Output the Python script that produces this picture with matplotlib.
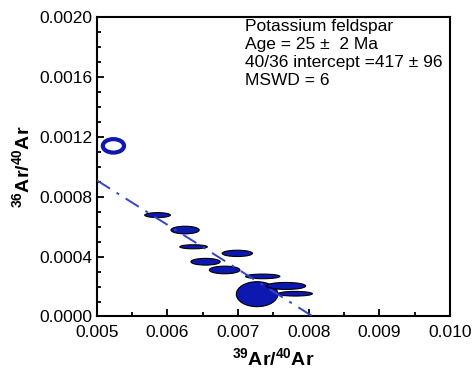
import numpy as np
import matplotlib
matplotlib.use('Agg')
import matplotlib.pyplot as plt
from matplotlib.patches import Ellipse
from matplotlib.ticker import MultipleLocator, FormatStrFormatter

plt.rcParams['font.family'] = ['Liberation Sans', 'DejaVu Sans']
plt.rcParams['mathtext.fontset'] = 'custom'
plt.rcParams['mathtext.rm'] = 'Liberation Sans:bold'
plt.rcParams['mathtext.bf'] = 'Liberation Sans:bold'

# Ellipses d'erreur (centre x, centre y, largeur, hauteur)
x_c = [0.00586, 0.00625, 0.00637, 0.00654, 0.00681, 0.00699, 0.00735, 0.00727, 0.00768, 0.00781]
y_c = [0.000678, 0.000578, 0.000466, 0.000366, 0.000311, 0.000422, 0.000268, 0.000149, 0.000204, 0.000152]
x_w = [0.000363, 0.000400, 0.000390, 0.000415, 0.000434, 0.000429, 0.000486, 0.000589, 0.000556, 0.000486]
y_h = [0.000033, 0.000051, 0.000027, 0.000045, 0.000051, 0.000042, 0.000031, 0.000167, 0.000047, 0.000031]

# Point exclu (ellipse vide)
x_out, y_out, w_out, h_out = 0.005235, 0.001141, 0.00030, 0.000090

# Isochrone inverse : 40/36 intercept = 417
y_int = 1 / 417
x_int = 0.00806
line_x = np.array([0.005, x_int])
line_y = y_int - (y_int / x_int) * line_x

fig = plt.figure(figsize=(4.77, 3.79), dpi=100)
ax = fig.add_axes([0.203, 0.165, 0.74, 0.789])

for xc, yc, w, h in zip(x_c, y_c, x_w, y_h):
    ax.add_patch(Ellipse((xc, yc), w, h, facecolor='#0c18b0', edgecolor='black', lw=0.8, zorder=3))

ax.add_patch(Ellipse((x_out, y_out), w_out, h_out, facecolor='none', edgecolor='#0c18b0', lw=3, zorder=3))

ax.plot(line_x, line_y, ls=(0, (8, 4, 1.5, 4)), color='#3344cc', lw=1.4, zorder=4, clip_on=True)

ax.set_xlim(0.005, 0.010)
ax.set_ylim(0.0, 0.0020)
ax.xaxis.set_major_locator(MultipleLocator(0.001))
ax.xaxis.set_minor_locator(MultipleLocator(0.0005))
ax.yaxis.set_major_locator(MultipleLocator(0.0004))
ax.yaxis.set_minor_locator(MultipleLocator(0.0001))
ax.xaxis.set_major_formatter(FormatStrFormatter('%.3f'))
ax.yaxis.set_major_formatter(FormatStrFormatter('%.4f'))
ax.tick_params(which='both', direction='in', width=1.3, labelsize=12.5)
ax.tick_params(axis='x', pad=6.5)
ax.tick_params(axis='y', pad=3)
ax.tick_params(which='major', length=5)
ax.tick_params(which='minor', length=3)
for s in ax.spines.values():
    s.set_linewidth(1.5)

ax.set_xlabel(r'$^{39}$Ar/$^{40}$Ar', fontsize=14, fontweight='bold', labelpad=5)
ax.set_ylabel(r'$^{36}$Ar/$^{40}$Ar', fontsize=14, fontweight='bold', labelpad=4)

ax.text(0.42, 0.995, 'Potassium feldspar\nAge = 25 \u00b1  2 Ma\n40/36 intercept =417 \u00b1 96\nMSWD = 6',
        transform=ax.transAxes, va='top', ha='left', fontsize=12.5, linespacing=1.25)

fig.savefig('out.png', dpi=100)
